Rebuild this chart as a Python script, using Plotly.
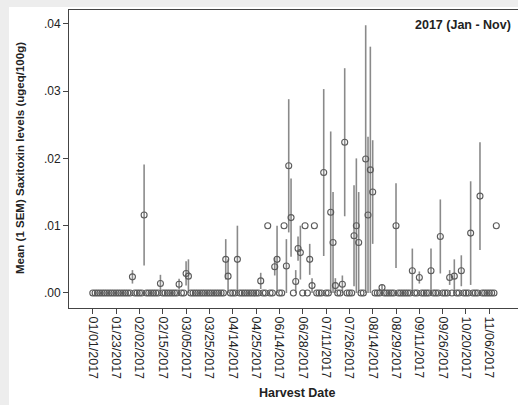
import plotly.graph_objects as go

# ---- data ----
tick_labels = ["01/01/2017", "01/23/2017", "02/02/2017", "02/15/2017", "03/05/2017",
               "03/25/2017", "04/14/2017", "04/25/2017", "06/14/2017", "06/28/2017",
               "07/11/2017", "07/26/2017", "08/14/2017", "08/29/2017", "09/11/2017",
               "09/26/2017", "10/20/2017", "11/06/2017"]

mean_saxitoxin = [
    0, 0, 0, 0, 0, 0, 0, 0, 0, 0,
    0, 0, 0, 0, 0, 0, 0, 0.0024, 0, 0,
    0, 0, 0.0116, 0, 0, 0, 0, 0, 0, 0.0014,
    0, 0, 0, 0, 0, 0, 0, 0.0013, 0, 0,
    0.0029, 0.0025, 0, 0, 0, 0, 0, 0, 0, 0,
    0, 0, 0, 0, 0, 0, 0, 0.005, 0.0025, 0,
    0, 0, 0.005, 0, 0, 0, 0, 0, 0, 0,
    0, 0, 0.0018, 0, 0, 0.01, 0, 0, 0.0039, 0.005,
    0, 0, 0.01, 0.004, 0.0189, 0.0112, 0, 0.0017, 0.0066, 0.006,
    0, 0.01, 0, 0.005, 0.0011, 0.01, 0, 0, 0, 0.0179,
    0, 0, 0.012, 0.0075, 0.0011, 0, 0, 0.0013, 0.0224, 0,
    0, 0, 0.0085, 0.01, 0.0075, 0, 0, 0.0199, 0.0116, 0.0183,
    0.015, 0, 0, 0, 0.0008, 0, 0, 0, 0, 0,
    0.01, 0, 0, 0, 0, 0, 0, 0.0033, 0, 0,
    0.0023, 0, 0, 0, 0, 0.0033, 0, 0, 0, 0.0084,
    0, 0, 0, 0.0023, 0, 0.0025, 0, 0, 0.0033, 0,
    0, 0, 0.0089, 0, 0, 0, 0.0144, 0, 0, 0,
    0, 0, 0, 0.01,
]

sem_saxitoxin = [
    0, 0, 0, 0, 0, 0, 0, 0, 0, 0,
    0, 0, 0, 0, 0, 0, 0, 0.001, 0, 0,
    0, 0, 0.0075, 0, 0, 0, 0, 0, 0, 0.0013,
    0, 0, 0, 0, 0, 0, 0, 0.0008, 0, 0,
    0.0018, 0.0025, 0, 0, 0, 0, 0, 0, 0, 0,
    0, 0, 0, 0, 0, 0, 0, 0.003, 0.0025, 0,
    0, 0, 0.005, 0, 0, 0, 0, 0, 0, 0,
    0, 0, 0.0012, 0, 0, 0, 0, 0, 0.0013, 0.005,
    0, 0, 0, 0.004, 0.0099, 0.0058, 0, 0.0017, 0.0018, 0.004,
    0, 0, 0, 0.0023, 0.0011, 0, 0, 0, 0, 0.0124,
    0, 0, 0.012, 0.0075, 0.0011, 0, 0, 0.0013, 0.011, 0,
    0, 0, 0.0075, 0.01, 0.0075, 0, 0, 0.0199, 0.0116, 0.0183,
    0.0077, 0, 0, 0, 0.0004, 0, 0, 0, 0, 0,
    0.0063, 0, 0, 0, 0, 0, 0, 0.0033, 0, 0,
    0.0009, 0, 0, 0, 0, 0.0033, 0, 0, 0, 0.0055,
    0, 0, 0, 0.0011, 0, 0.0025, 0, 0, 0.0023, 0,
    0, 0, 0.0077, 0, 0, 0, 0.008, 0, 0, 0,
    0, 0, 0, 0,
]

y_tick_values = [0, 0.01, 0.02, 0.03, 0.04]
y_tick_labels = [".00", ".01", ".02", ".03", ".04"]

# ---- layout geometry ----
W, H = 518, 405
ML, MR, MT, MB = 69, 0, 10, 97
PW, PH = W - ML - MR, H - MT - MB


def px_x(px):
    return (px - ML) / PW


def px_y(py):
    return (H - MB - py) / PH


category_index = list(range(len(mean_saxitoxin)))
label_every = len(category_index[::10])
tick_positions = category_index[::10][:len(tick_labels)]

FONT = "Liberation Sans, Arial, sans-serif"

fig = go.Figure()
fig.add_trace(go.Scatter(
    x=category_index,
    y=mean_saxitoxin,
    mode="markers",
    marker=dict(symbol="circle-open", size=6, color="#5a5a5a", line=dict(width=1.1)),
    error_y=dict(type="data", array=sem_saxitoxin, visible=True,
                 color="#8a8a8a", thickness=1.6, width=0),
    showlegend=False,
    hoverinfo="x+y",
))

fig.update_layout(
    width=W, height=H,
    margin=dict(l=ML, r=MR, t=MT, b=MB, pad=0),
    paper_bgcolor="white",
    plot_bgcolor="white",
    font=dict(family=FONT, size=12, color="#222"),
    xaxis=dict(
        range=[-10.2, 182.3],
        tickmode="array",
        tickvals=tick_positions,
        ticktext=tick_labels,
        tickangle=90,
        ticks="outside", ticklen=5, tickwidth=1, tickcolor="#444",
        tickfont=dict(size=12.5, color="#222"),
        showline=True, linecolor="#444", linewidth=1, mirror=True,
        showgrid=False, zeroline=False, automargin=False,
    ),
    yaxis=dict(
        range=[-0.00223, 0.04205],
        tickmode="array",
        tickvals=y_tick_values,
        ticktext=y_tick_labels,
        ticks="outside", ticklen=5, tickwidth=1, tickcolor="#444",
        tickfont=dict(size=12, color="#222"),
        showline=True, linecolor="#444", linewidth=1, mirror=False,
        showgrid=False, zeroline=False, automargin=False,
    ),
    shapes=[
        dict(type="rect", xref="paper", yref="paper",
             x0=px_x(0), x1=px_x(W), y0=px_y(7), y1=px_y(0),
             fillcolor="#ededed", line=dict(width=0), layer="below"),
        dict(type="rect", xref="paper", yref="paper",
             x0=px_x(0), x1=px_x(9), y0=px_y(H), y1=px_y(0),
             fillcolor="#ededed", line=dict(width=0), layer="below"),
    ],
    annotations=[
        dict(text="<b>2017 (Jan - Nov)</b>", xref="paper", yref="paper",
             x=px_x(513), y=px_y(25), xanchor="right", yanchor="middle",
             showarrow=False, font=dict(size=12.5, color="#222")),
        dict(text="<b>Mean (1 SEM) Saxitoxin levels (ugeq/100g)</b>",
             xref="paper", yref="paper", x=px_x(20), y=px_y(158),
             xanchor="center", yanchor="middle", textangle=-90,
             showarrow=False, font=dict(size=11.5, color="#222")),
        dict(text="<b>Harvest Date</b>", xref="paper", yref="paper",
             x=px_x(297), y=px_y(393), xanchor="center", yanchor="middle",
             showarrow=False, font=dict(size=12.5, color="#222")),
    ],
)

fig.write_html("out.html")
